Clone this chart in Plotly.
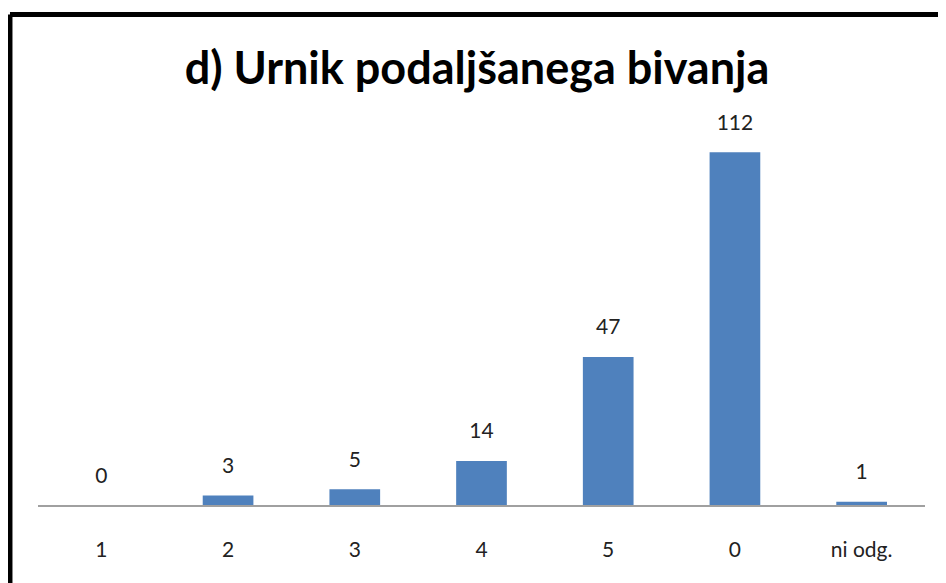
import plotly.graph_objects as go

categories = ['1', '2', '3', '4', '5', '0', 'ni odg.']
counts = [0, 3, 5, 14, 47, 112, 1]
title_text = 'd) Urnik podaljšanega bivanja'

bar_color = '#4F81BD'
font_family = 'Lato, Open Sans, sans-serif'

fig = go.Figure()
fig.add_trace(go.Bar(
    x=categories,
    y=counts,
    marker={'color': bar_color, 'line': {'width': 0}},
    width=0.4,
    hoverinfo='x+y',
))

# value labels; an invisible marker keeps the text a bit above the bar top
fig.add_trace(go.Scatter(
    x=categories,
    y=counts,
    mode='markers+text',
    text=[str(v) for v in counts],
    textposition='top center',
    marker={'size': 26, 'opacity': 0},
    textfont={'size': 21, 'color': '#222222', 'family': font_family},
    hoverinfo='skip',
    cliponaxis=False,
))

# black frame on the left and top edges
fig.add_shape(type='line', xref='paper', yref='paper',
              x0=-0.0316, x1=1.05, y0=1.2976, y1=1.2976,
              line={'color': 'black', 'width': 5})
fig.add_shape(type='line', xref='paper', yref='paper',
              x0=-0.0316, x1=-0.0316, y0=-0.3, y1=1.2976,
              line={'color': 'black', 'width': 5})

# page body has an 8px margin, so the figure is 8px smaller than the window
fig.update_layout(
    width=938,
    height=575,
    margin={'l': 30, 'r': 21, 't': 119, 'b': 78, 'pad': 0},
    paper_bgcolor='white',
    plot_bgcolor='white',
    showlegend=False,
    title={
        'text': '<b>' + title_text + '</b>',
        'x': 0.5,
        'xanchor': 'center',
        'y': 0.895,
        'yanchor': 'middle',
        'font': {'size': 45, 'color': 'black', 'family': font_family},
    },
    xaxis={
        'type': 'category',
        'showline': True,
        'linecolor': '#A0A0A0',
        'linewidth': 1.5,
        'showgrid': False,
        'zeroline': False,
        'ticks': '',
        'ticklabelstandoff': 25,
        'tickfont': {'size': 21, 'color': '#222222', 'family': font_family},
        'fixedrange': True,
    },
    yaxis={
        'range': [0, 120],
        'visible': False,
        'showgrid': False,
        'zeroline': False,
        'fixedrange': True,
    },
)

fig.write_html('out.html')
